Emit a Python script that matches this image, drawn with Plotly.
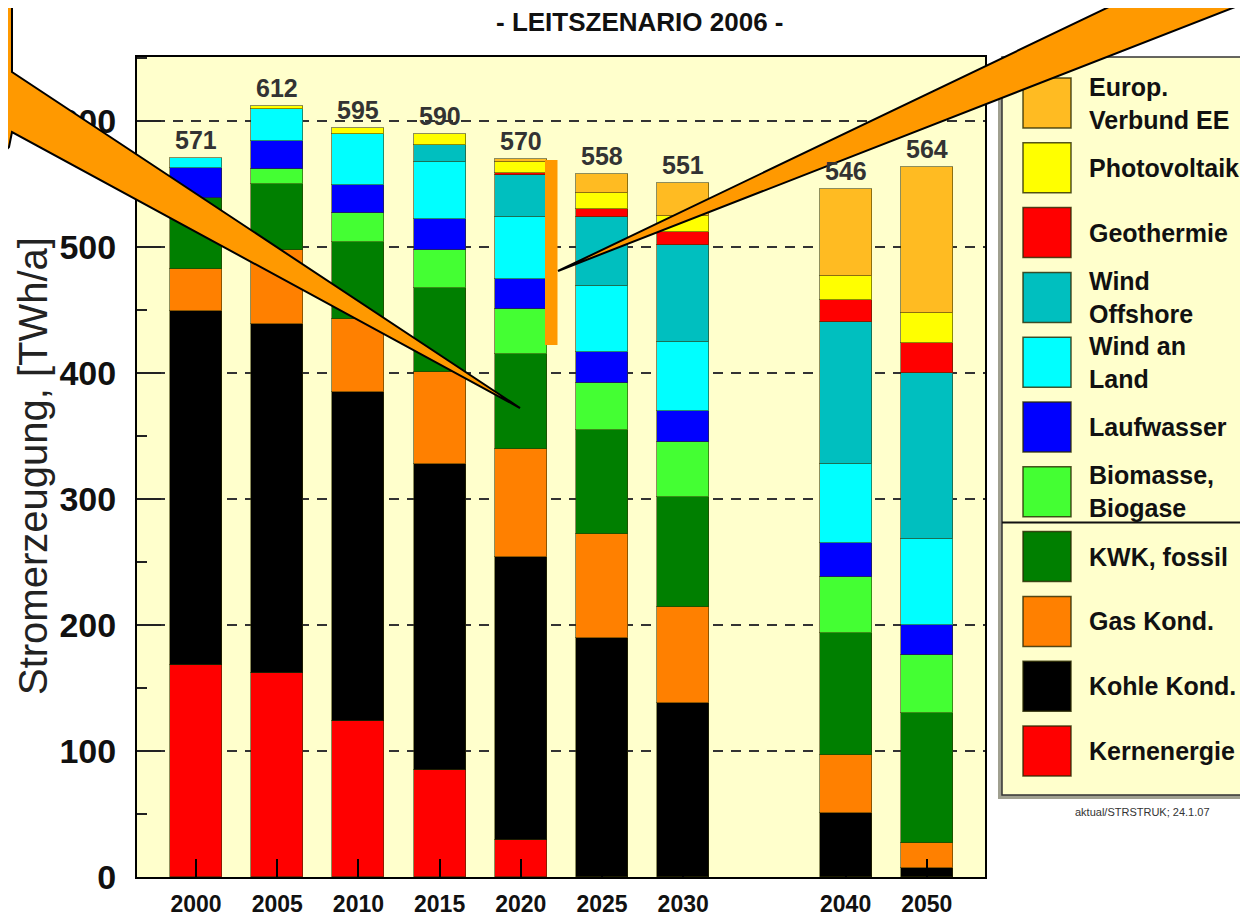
import plotly.graph_objects as go

# categories
years = ["2000", "2005", "2010", "2015", "2020", "2025", "2030", "2040", "2050"]
xpos = [0, 1, 2, 3, 4, 5, 6, 8, 9]  # 2035 slot left empty
totals = [571, 612, 595, 590, 570, 558, 551, 546, 564]

# TWh/a, stacked bottom -> top
kernenergie = [168, 162, 124, 85, 29, 0, 0, 0, 0]
kohle_kond = [281, 277, 261, 243, 225, 190, 138, 51, 7]
gas_kond = [34, 59, 58, 73, 86, 82, 76, 46, 20]
kwk_fossil = [56, 52, 61, 67, 75, 83, 88, 97, 103]
biomasse = [0, 12, 23, 30, 36, 37, 43, 44, 46]
laufwasser = [24, 22, 22, 24, 24, 25, 25, 27, 24]
wind_land = [8, 26, 41, 46, 49, 52, 55, 63, 68]
wind_offshore = [0, 0, 0, 13, 33, 55, 77, 113, 132]
geothermie = [0, 0, 0, 0, 2, 6, 10, 17, 24]
photovoltaik = [0, 2, 5, 9, 9, 13, 13, 19, 24]
europ_ee = [0, 0, 0, 0, 2, 15, 26, 69, 116]

series = [
    ("Kernenergie", kernenergie, "#FF0000"),
    ("Kohle Kond.", kohle_kond, "#000000"),
    ("Gas Kond.", gas_kond, "#FF8000"),
    ("KWK, fossil", kwk_fossil, "#007F00"),
    ("Biomasse,<br>Biogase", biomasse, "#44FF33"),
    ("Laufwasser", laufwasser, "#0000FF"),
    ("Wind an<br>Land", wind_land, "#00FFFF"),
    ("Wind<br>Offshore", wind_offshore, "#00BFBF"),
    ("Geothermie", geothermie, "#FF0000"),
    ("Photovoltaik", photovoltaik, "#FFFF00"),
    ("Europ.<br>Verbund EE", europ_ee, "#FFBB22"),
]

FONT = "Arial, 'Liberation Sans', sans-serif"
OFF = 8  # body margin of the html page
W, H = 1248 - OFF, 920 - OFF
# plot area in page pixels
L, R, T, B = 137, 985, 57, 877
PW, PH = R - L, B - T


def px(x):
    return (x - L) / PW


def py(y):
    return (B - y) / PH


fig = go.Figure()
for name, vals, color in series:
    fig.add_trace(go.Bar(
        x=xpos, y=[v if v else None for v in vals], name=name.replace("<br>", " "),
        width=0.64, marker=dict(color=color, line=dict(color="rgba(50,50,0,0.55)", width=1)),
        showlegend=False,
    ))

shapes = []
ann = []

# totals above the bars
for xp, tot in zip(xpos, totals):
    ann.append(dict(x=xp, y=tot, text=str(tot), showarrow=False, yshift=18,
                    xanchor="center", yanchor="middle",
                    font=dict(size=25, color="#333", family=FONT, weight="bold")))

# legend box
shapes.append(dict(type="rect", xref="paper", yref="paper", x0=px(998), x1=px(1262),
                   y0=py(61), y1=py(799), fillcolor="#A0A090", line=dict(width=0), layer="above"))
shapes.append(dict(type="rect", xref="paper", yref="paper", x0=px(1002), x1=px(1262),
                   y0=py(57), y1=py(795), fillcolor="#FFFFCC", line=dict(color="#333", width=1.5),
                   layer="above"))
shapes.append(dict(type="line", xref="paper", yref="paper", x0=px(1002), x1=px(1262),
                   y0=py(522.5), y1=py(522.5), line=dict(color="#111", width=2), layer="above"))

for i, (name, vals, color) in enumerate(reversed(series)):
    cy = 103 + 64.8 * i
    shapes.append(dict(type="rect", xref="paper", yref="paper", x0=px(1023), x1=px(1071),
                       y0=py(cy + 25), y1=py(cy - 25), fillcolor=color,
                       line=dict(color="rgba(40,40,0,0.8)", width=1.5), layer="above"))
    ann.append(dict(text=name, xref="paper", yref="paper", x=px(1087), y=py(cy),
                    xanchor="left", yanchor="middle", align="left", showarrow=False,
                    font=dict(size=25, color="#111", family=FONT, weight="bold")))

# callouts
def path(pts, close=True):
    s = "M " + " L ".join(f"{px(x):.5f},{py(y):.5f}" for x, y in pts)
    return s + (" Z" if close else "")


orange = "#FF9900"
shapes.append(dict(type="rect", xref="paper", yref="paper", x0=px(545), x1=px(557.5),
                   y0=py(345), y1=py(160), fillcolor=orange, line=dict(width=0), layer="above"))
shapes.append(dict(type="path", xref="paper", yref="paper",
                   path=path([(558, 271), (1186, -30), (1330, -30)]),
                   fillcolor=orange, line=dict(color="black", width=2), layer="above"))
shapes.append(dict(type="path", xref="paper", yref="paper",
                   path=path([(-60, -40), (12, -40), (12, 72), (520, 408), (12, 132),
                              (9, 147), (0, 157), (-60, 157)]),
                   fillcolor=orange, line=dict(color="black", width=2), layer="above"))

# titles
ann.append(dict(text="- LEITSZENARIO 2006 -", xref="paper", yref="paper", x=px(640), y=py(22),
                xanchor="center", yanchor="middle", showarrow=False,
                font=dict(size=26, color="#111", family=FONT, weight="bold")))
ann.append(dict(text="Stromerzeugung, [TWh/a]", xref="paper", yref="paper", x=px(33), y=py(466),
                xanchor="center", yanchor="middle", textangle=-90, showarrow=False,
                font=dict(size=40, color="#222", family=FONT)))
ann.append(dict(text="aktual/STRSTRUK; 24.1.07", xref="paper", yref="paper", x=px(1073), y=py(812),
                xanchor="left", yanchor="middle", showarrow=False,
                font=dict(size=11, color="#333", family=FONT)))

fig.update_layout(
    width=W, height=H, margin=dict(l=L - OFF, r=W - (R - OFF), t=T - OFF, b=H - (B - OFF)),
    barmode="stack", bargap=0, paper_bgcolor="white", plot_bgcolor="#FFFFCC",
    font=dict(family=FONT), shapes=shapes, annotations=ann,
)
fig.update_xaxes(
    range=[-0.727, 9.717], tickvals=xpos, ticktext=years, ticks="inside", ticklen=18,
    tickwidth=2, tickcolor="black", showgrid=False, showline=True, linecolor="black",
    linewidth=2, mirror=True, ticklabelstandoff=5, automargin=False,
    tickfont=dict(size=23, color="#111", family=FONT, weight="bold"),
)
fig.update_yaxes(
    range=[0, 651], tickvals=[0, 100, 200, 300, 400, 500, 600], ticks="inside", ticklen=24,
    tickwidth=2, tickcolor="#222", showgrid=True, gridcolor="#333", gridwidth=2,
    griddash="10px,8px", zeroline=False, showline=True, linecolor="black", linewidth=2,
    mirror=True, ticklabelstandoff=12, automargin=False,
    minor=dict(dtick=50, tick0=0, ticks="inside", ticklen=10, tickwidth=2, tickcolor="#222",
               showgrid=False),
    tickfont=dict(size=34, color="#111", family=FONT, weight="bold"),
)

fig.write_html("out.html")
